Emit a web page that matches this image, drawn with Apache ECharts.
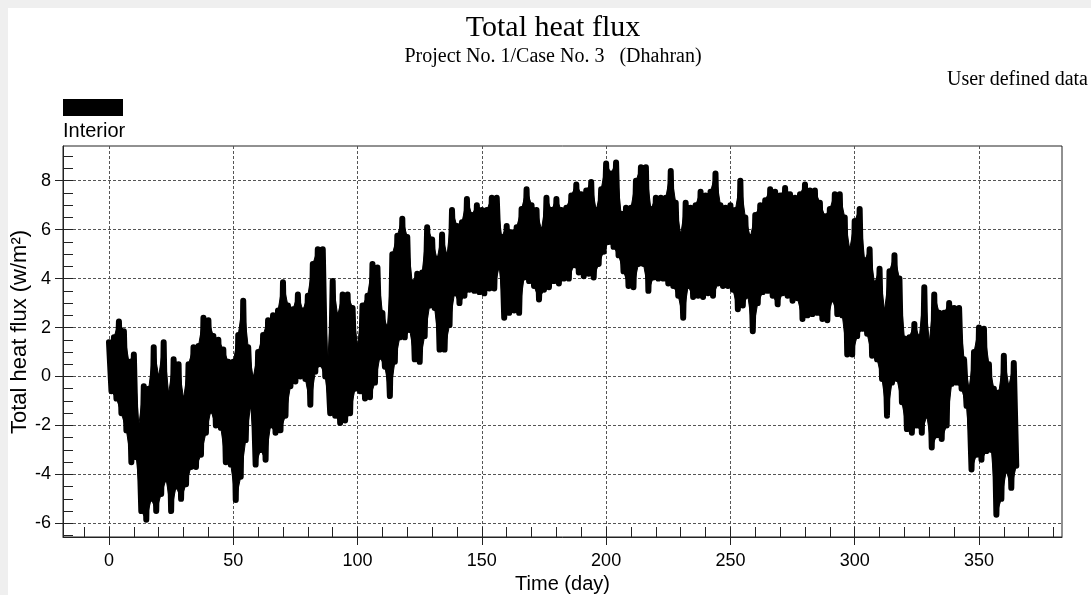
<!DOCTYPE html>
<html>
<head>
<meta charset="utf-8">
<script src="https://cdn.jsdelivr.net/npm/echarts@6/dist/echarts.min.js"></script>
<style>
html,body{margin:0;padding:0;background:#fff;}
#chart{width:1091px;height:595px;}
</style>
</head>
<body>
<div id="chart"></div>
<script>
// Tick values
const xMajorTicks = [0, 50, 100, 150, 200, 250, 300, 350];
const xMinorTicks = [-10, 0, 10, 20, 30, 40, 50, 60, 70, 80, 90, 100, 110, 120, 130, 140, 150, 160, 170, 180, 190, 200, 210, 220, 230, 240, 250, 260, 270, 280, 290, 300, 310, 320, 330, 340, 350, 360, 370, 380];
const yMajorTicks = [-6, -4, -2, 0, 2, 4, 6, 8];
const yMinorTicks = [-6.5, -6, -5.5, -5, -4.5, -4, -3.5, -3, -2.5, -2, -1.5, -1, -0.5, 0, 0.5, 1, 1.5, 2, 2.5, 3, 3.5, 4, 4.5, 5, 5.5, 6, 6.5, 7, 7.5, 8, 8.5, 9];

// Interior total heat flux: daily high and low read per 2-day block (block i starts at day 2*i)
const blockHigh = [
 1.4, 1.6, 2.25, 1.85, 0.6, 0.9, -2.0, -0.4, -0.5, 1.2,
 0.0, 1.4, -0.7, 0.7, 0.5, -0.9, 0.5, 1.2, 1.25, 2.4,
 2.3, 1.65, 1.5, 1.1, 0.6, 0.6, 1.7, 3.1, 1.2, -0.05,
 1.0, 1.7, 2.3, 2.5, 2.7, 3.85, 2.9, 2.75, 3.35, 2.7,
 3.3, 4.6, 5.2, 5.2, 0.6, 3.9, 2.5, 3.35, 3.35, 2.8,
 1.25, 2.9, 3.3, 4.6, 4.45, 2.6, 2.0, 5.0, 5.75, 6.45,
 5.7, 3.85, 4.2, 4.25, 6.1, 5.6, 4.8, 5.8, 4.95, 6.8,
 6.15, 6.3, 7.25, 6.6, 7.0, 6.8, 6.8, 7.3, 7.3, 5.7,
 6.15, 5.9, 6.1, 6.85, 7.65, 7.0, 6.8, 6.0, 7.3, 6.8,
 7.25, 6.8, 6.9, 7.4, 7.85, 7.45, 7.6, 7.95, 6.8, 7.65,
 8.7, 8.3, 8.75, 6.65, 6.9, 6.9, 8.0, 8.55, 8.55, 6.85,
 7.3, 7.3, 7.3, 8.4, 7.1, 5.8, 7.1, 6.9, 7.0, 7.55,
 7.4, 7.55, 8.3, 7.0, 6.9, 7.0, 6.8, 8.0, 6.5, 5.7,
 6.6, 7.0, 7.2, 7.65, 7.55, 7.4, 7.7, 7.45, 7.3, 7.45,
 7.85, 7.6, 7.6, 7.1, 6.55, 6.85, 7.45, 7.45, 6.5, 5.2,
 6.35, 6.85, 4.75, 5.2, 3.8, 4.4, 2.7, 4.3, 4.95, 4.0,
 1.55, 1.6, 2.15, 1.6, 3.65, 1.4, 3.35, 2.6, 2.6, 3.0,
 2.8, 2.8, 0.7, -0.5, 1.0, 2.0, 1.95, 0.5, -0.5, -0.65,
 0.85, -0.4, 0.55
];
const blockLow = [
 -0.6, -0.9, -1.5, -2.2, -3.5, -3.3, -5.5, -5.85, -5.0, -5.5,
 -4.8, -4.2, -5.5, -4.5, -5.0, -4.4, -3.7, -3.7, -3.2, -2.3,
 -1.4, -2.0, -2.1, -3.5, -3.6, -5.05, -4.1, -2.6, -1.2, -3.6,
 -3.0, -3.4, -2.0, -2.3, -2.2, -1.6, -0.4, -0.2, 0.0, -0.1,
 -1.15, 0.2, 0.5, 0.0, -1.5, -1.6, -1.9, -1.8, -1.5, -0.5,
 -0.6, -0.9, -0.85, -0.25, 0.8, 0.4, -0.8, 0.6, 1.6, 1.6,
 1.9, 0.7, 0.6, 1.65, 2.9, 2.8, 1.1, 1.1, 2.1, 3.4,
 3.0, 3.3, 3.55, 3.5, 3.45, 3.4, 3.6, 3.6, 4.5, 2.4,
 2.6, 2.7, 2.6, 4.05, 3.9, 3.7, 3.15, 3.55, 3.65, 3.9,
 3.8, 4.0, 4.0, 4.55, 4.25, 4.1, 4.2, 4.05, 4.6, 5.1,
 5.5, 5.3, 4.95, 4.3, 3.7, 3.65, 4.6, 4.6, 3.5, 4.05,
 4.0, 4.0, 3.8, 3.7, 3.3, 2.4, 3.7, 3.25, 3.3, 3.25,
 3.4, 3.3, 3.8, 3.7, 3.7, 3.55, 2.75, 2.9, 3.3, 1.85,
 3.0, 3.45, 3.5, 3.3, 2.95, 3.4, 3.3, 3.1, 3.2, 2.35,
 2.5, 2.55, 2.6, 2.35, 2.3, 3.15, 2.55, 2.5, 0.9, 0.9,
 1.65, 1.95, 1.75, 0.85, 0.7, -0.1, -1.6, -0.25, -0.1, -1.05,
 -2.15, -2.3, -2.0, -2.3, -1.6, -2.9, -2.4, -2.55, -2.0, -0.3,
 -0.25, -0.5, -1.2, -3.8, -3.2, -3.4, -3.05, -3.0, -5.65, -5.0,
 -3.85, -4.55, -3.65
];

const lineData = [];
const bandData = [];
for (let i = 0; i < blockHigh.length; i++) {
  lineData.push([2 * i, blockHigh[i]]);
  lineData.push([2 * i + 1, blockLow[i]]);
  bandData.push([2 * i, blockHigh[i], 2 * i + 1, blockLow[i]]);
}

const SANS = '"Liberation Sans", Arial, sans-serif';
const SERIF = '"Liberation Serif", "Times New Roman", serif';
const gridDash = { color: '#555', type: [3, 2], width: 1 };

// Filled quad between consecutive blocks' highs and lows, through the axes' scales
function renderBand(params, api) {
  const i = params.dataIndex;
  const next = Math.min(i + 1, bandData.length - 1);
  const p1 = api.coord([api.value(0), api.value(1)]);
  const p2 = api.coord([bandData[next][0], bandData[next][1]]);
  const p3 = api.coord([bandData[next][2], bandData[next][3]]);
  const p4 = api.coord([api.value(2), api.value(3)]);
  return {
    type: 'polygon',
    shape: { points: [p1, p2, p3, p4] },
    style: { fill: '#000', stroke: '#000', lineWidth: 1 }
  };
}

const chart = echarts.init(document.getElementById('chart'), null, { renderer: 'canvas' });
chart.setOption({
  animation: false,
  backgroundColor: '#fff',
  graphic: [
    { type: 'rect', shape: { x: 0, y: 0, width: 1091, height: 8 }, style: { fill: '#efefef' }, z: -10 },
    { type: 'rect', shape: { x: 0, y: 0, width: 8, height: 595 }, style: { fill: '#efefef' }, z: -10 },
    { type: 'text', x: 553, y: 28, style: { text: 'Total heat flux', font: '30px ' + SERIF, fill: '#000', textAlign: 'center', textVerticalAlign: 'middle' } },
    { type: 'text', x: 553, y: 57, style: { text: 'Project No. 1/Case No. 3   (Dhahran)', font: '20px ' + SERIF, fill: '#000', textAlign: 'center', textVerticalAlign: 'middle' } },
    { type: 'text', x: 1088, y: 80, style: { text: 'User defined data', font: '20px ' + SERIF, fill: '#000', textAlign: 'right', textVerticalAlign: 'middle' } },
    { type: 'rect', shape: { x: 63, y: 99, width: 60, height: 17 }, style: { fill: '#000' } },
    { type: 'text', x: 63, y: 131, style: { text: 'Interior', font: '20px ' + SANS, fill: '#000', textAlign: 'left', textVerticalAlign: 'middle' } },
    { type: 'text', x: 20, y: 332, rotation: Math.PI / 2, style: { text: 'Total heat flux (w/m²)', font: '22px ' + SANS, fill: '#000', textAlign: 'center', textVerticalAlign: 'middle' } }
  ],
  grid: { left: 63, right: 29, top: 146, bottom: 58, show: true, borderColor: '#222', borderWidth: 1, backgroundColor: 'transparent', containLabel: false, outerBoundsMode: 'none' },
  xAxis: [
    {
      type: 'value', min: -18.5, max: 383.4, position: 'bottom',
      axisLine: { show: true, onZero: false, lineStyle: { color: '#222' } },
      axisTick: { show: true, inside: false, length: 8, customValues: xMajorTicks, lineStyle: { color: '#222' } },
      axisLabel: { show: true, customValues: xMajorTicks, margin: 15, fontSize: 18, color: '#000', fontFamily: SANS },
      splitLine: { show: true, lineStyle: gridDash },
      name: 'Time (day)', nameLocation: 'middle', nameGap: 35,
      nameTextStyle: { fontSize: 20, color: '#000', fontFamily: SANS }
    },
    {
      type: 'value', min: -18.5, max: 383.4, position: 'bottom',
      axisLine: { show: false, onZero: false },
      axisTick: { show: true, inside: true, length: 10, customValues: xMinorTicks, lineStyle: { color: '#222' } },
      axisLabel: { show: false },
      splitLine: { show: false }
    }
  ],
  yAxis: [
    {
      type: 'value', min: -6.56, max: 9.42, position: 'left',
      axisLine: { show: true, onZero: false, lineStyle: { color: '#222' } },
      axisTick: { show: true, inside: false, length: 8, customValues: yMajorTicks, lineStyle: { color: '#222' } },
      axisLabel: { show: true, customValues: yMajorTicks, margin: 12, fontSize: 18, color: '#000', fontFamily: SANS },
      splitLine: { show: true, lineStyle: gridDash }
    },
    {
      type: 'value', min: -6.56, max: 9.42, position: 'left',
      axisLine: { show: false, onZero: false },
      axisTick: { show: true, inside: true, length: 10, customValues: yMinorTicks, lineStyle: { color: '#222' } },
      axisLabel: { show: false },
      splitLine: { show: false }
    }
  ],
  series: [
    {
      name: 'Interior band', type: 'custom', xAxisIndex: 0, yAxisIndex: 0,
      data: bandData, encode: { x: [0, 2], y: [1, 3] },
      renderItem: renderBand, clip: true, silent: true, z: 2
    },
    {
      name: 'Interior', type: 'line', xAxisIndex: 0, yAxisIndex: 0,
      data: lineData, showSymbol: false, symbol: 'none', clip: true, z: 3,
      lineStyle: { color: '#000', width: 6, cap: 'round', join: 'round' }
    }
  ]
});
</script>
</body>
</html>
